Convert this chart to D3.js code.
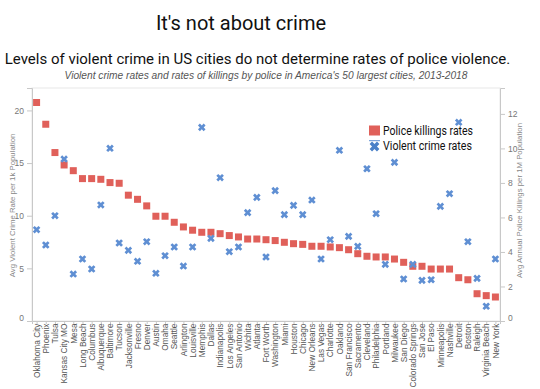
<!DOCTYPE html>
<html>
<head>
  <meta charset='utf-8'>
  <title>It's not about crime</title>
  <script src="https://cdnjs.cloudflare.com/ajax/libs/d3/7.8.5/d3.min.js"></script>
  <style>
    body { margin: 0; background: #fff; }
    svg { display: block; }
  </style>
</head>
<body>
  <svg width="540" height="389" id="chart"></svg>
  <script>
    // cities sorted by police killings rate
    const cities = ["Oklahoma City", "Phoenix", "Tulsa", "Kansas City MO", "Mesa", "Long Beach",
      "Columbus", "Albuquerque", "Baltimore", "Tucson", "Jacksonville", "Fresno", "Denver", "Austin",
      "Omaha", "Seattle", "Arlington", "Louisville", "Memphis", "Dallas", "Indianapolis", "Los Angeles",
      "San Antonio", "Wichita", "Atlanta", "Fort Worth", "Washington", "Miami", "Houston", "Chicago",
      "New Orleans", "Las Vegas", "Charlotte", "Oakland", "San Francisco", "Sacramento", "Cleveland",
      "Philadelphia", "Portland", "Milwaukee", "San Diego", "Colorado Springs", "San Jose", "El Paso",
      "Minneapolis", "Nashville", "Detroit", "Boston", "Raleigh", "Virginia Beach", "New York"];

    // avg annual police killings per 1M population (right axis)
    const killings = [12.66, 11.40, 9.76, 9.04, 8.71, 8.25, 8.25, 8.21, 8.02, 7.98, 7.29, 7.05, 6.67,
      6.07, 6.07, 5.72, 5.45, 5.26, 5.14, 5.14, 5.06, 4.95, 4.87, 4.75, 4.75, 4.71, 4.66, 4.56, 4.48,
      4.44, 4.33, 4.33, 4.29, 4.25, 4.13, 3.90, 3.75, 3.71, 3.71, 3.59, 3.40, 3.17, 3.17, 3.01, 3.01,
      3.01, 2.51, 2.39, 1.58, 1.47, 1.39];

    // avg violent crime rate per 1k population (left axis)
    const crime = [8.67, 7.22, 10.0, 15.38, 4.46, 5.89, 4.94, 11.02, 16.4, 7.41, 6.71, 5.67, 7.53,
      4.53, 6.2, 7.03, 5.22, 7.03, 18.39, 7.85, 13.61, 6.58, 7.03, 10.29, 11.74, 6.08, 12.38, 10.1,
      10.98, 10.1, 11.49, 5.89, 7.72, 16.21, 8.04, 7.09, 14.46, 10.19, 5.38, 15.07, 3.99, 5.38, 3.86,
      3.92, 10.89, 12.09, 18.87, 7.53, 4.05, 1.40, 5.89];

    const leftTicks = [0, 5, 10, 15, 20];
    const rightTicks = [0, 2, 4, 6, 8, 10, 12];

    const red = "#e0605a";
    const blue = "#5f8fd3";
    const svg = d3.select("#chart");

    const plotL = 32, plotR = 500, plotT = 88, plotB = 321;

    const x = d3.scalePoint().domain(cities).range([plotL, plotR]).padding(0.5);
    const yL = d3.scaleLinear().domain([0, 22.13]).range([plotB, plotT]);
    const yR = d3.scaleLinear().domain([0, 13.5]).range([plotB, plotT]);

    // titles
    svg.append("text").attr("x", 241).attr("y", 30).attr("text-anchor", "middle")
      .style("font", "20px Roboto").style("fill", "#111").text("It's not about crime");
    svg.append("text").attr("x", 257.5).attr("y", 64).attr("text-anchor", "middle")
      .style("font", "15px Roboto").style("fill", "#111")
      .text("Levels of violent crime in US cities do not determine rates of police violence.");
    svg.append("text").attr("x", 266).attr("y", 79).attr("text-anchor", "middle")
      .style("font", "italic 10.2px 'Liberation Sans'").style("fill", "#555")
      .text("Violent crime rates and rates of killings by police in America's 50 largest cities, 2013-2018");

    // view frame
    svg.append("rect").attr("x", plotL).attr("y", plotT).attr("width", plotR - plotL).attr("height", plotB - plotT)
      .attr("fill", "none").attr("stroke", "#e8e8e8");

    const axisFont = "8.5px 'Liberation Sans'";

    const gL = svg.append("g").attr("transform", `translate(${plotL},0)`)
      .call(d3.axisLeft(yL).tickValues(leftTicks).tickSize(5).tickPadding(3));
    const gR = svg.append("g").attr("transform", `translate(${plotR},0)`)
      .call(d3.axisRight(yR).tickValues(rightTicks).tickSize(5).tickPadding(3));
    const gX = svg.append("g").attr("transform", `translate(0,${plotB})`)
      .call(d3.axisBottom(x).tickSize(3).tickPadding(1));

    [gL, gR, gX].forEach(g => {
      g.select(".domain").attr("stroke", "#c8c8c8");
      g.selectAll(".tick line").attr("stroke", "#c8c8c8");
      g.selectAll("text").style("font", axisFont).attr("fill", "#777");
    });
    // flush bottom labels
    gL.selectAll(".tick text").filter(d => d === 0).attr("dy", "-0.1em");
    gR.selectAll(".tick text").filter(d => d === 0).attr("dy", "-0.1em");

    gX.selectAll(".tick text")
      .style("font", "8.3px 'Liberation Sans'").attr("fill", "#555")
      .attr("text-anchor", "end")
      .attr("transform", "rotate(-90)")
      .attr("x", -2.5).attr("y", 0).attr("dy", "0.33em");

    // axis titles
    svg.append("text").attr("transform", `translate(15,${(plotT + plotB) / 2 + 1}) rotate(-90)`)
      .attr("text-anchor", "middle").style("font", "7.8px 'Liberation Sans'").attr("fill", "#888")
      .text("Avg Violent Crime Rate per 1k Population");
    svg.append("text").attr("transform", `translate(522,${(plotT + plotB) / 2 - 4}) rotate(-90)`)
      .attr("text-anchor", "middle").style("font", "7.8px 'Liberation Sans'").attr("fill", "#888")
      .text("Avg Annual Police Killings per 1M Population");

    // police killings (squares)
    svg.append("g").selectAll("rect").data(cities).join("rect")
      .attr("x", d => x(d) - 3.5)
      .attr("y", (d, i) => yR(killings[i]) - 3.5)
      .attr("width", 7).attr("height", 7)
      .attr("fill", red);

    // violent crime (crosses)
    const cross = d3.symbol().type(d3.symbolCross).size(36);
    svg.append("g").selectAll("path").data(cities).join("path")
      .attr("d", cross)
      .attr("transform", (d, i) => `translate(${x(d)},${yL(crime[i])}) rotate(45)`)
      .attr("fill", blue);

    // legend
    const lg = svg.append("g");
    const legendFont = "12.5px Roboto";
    lg.append("rect").attr("x", 369).attr("y", 125.5).attr("width", 11).attr("height", 10).attr("fill", red);
    lg.append("text").attr("x", 383).attr("y", 135).style("font", legendFont)
      .attr("textLength", 90).attr("lengthAdjust", "spacingAndGlyphs")
      .attr("fill", "#111").text("Police killings rates");
    lg.append("line").attr("x1", 369).attr("x2", 380).attr("y1", 140.7).attr("y2", 140.7)
      .attr("stroke", blue).attr("stroke-width", 1);
    lg.append("path").attr("d", d3.symbol().type(d3.symbolCross).size(60))
      .attr("transform", "translate(374.5,146.5) rotate(45)").attr("fill", "#4a80c8");
    lg.append("text").attr("x", 383).attr("y", 150).style("font", legendFont)
      .attr("textLength", 89).attr("lengthAdjust", "spacingAndGlyphs")
      .attr("fill", "#111").text("Violent crime rates");
  </script>
</body>
</html>
